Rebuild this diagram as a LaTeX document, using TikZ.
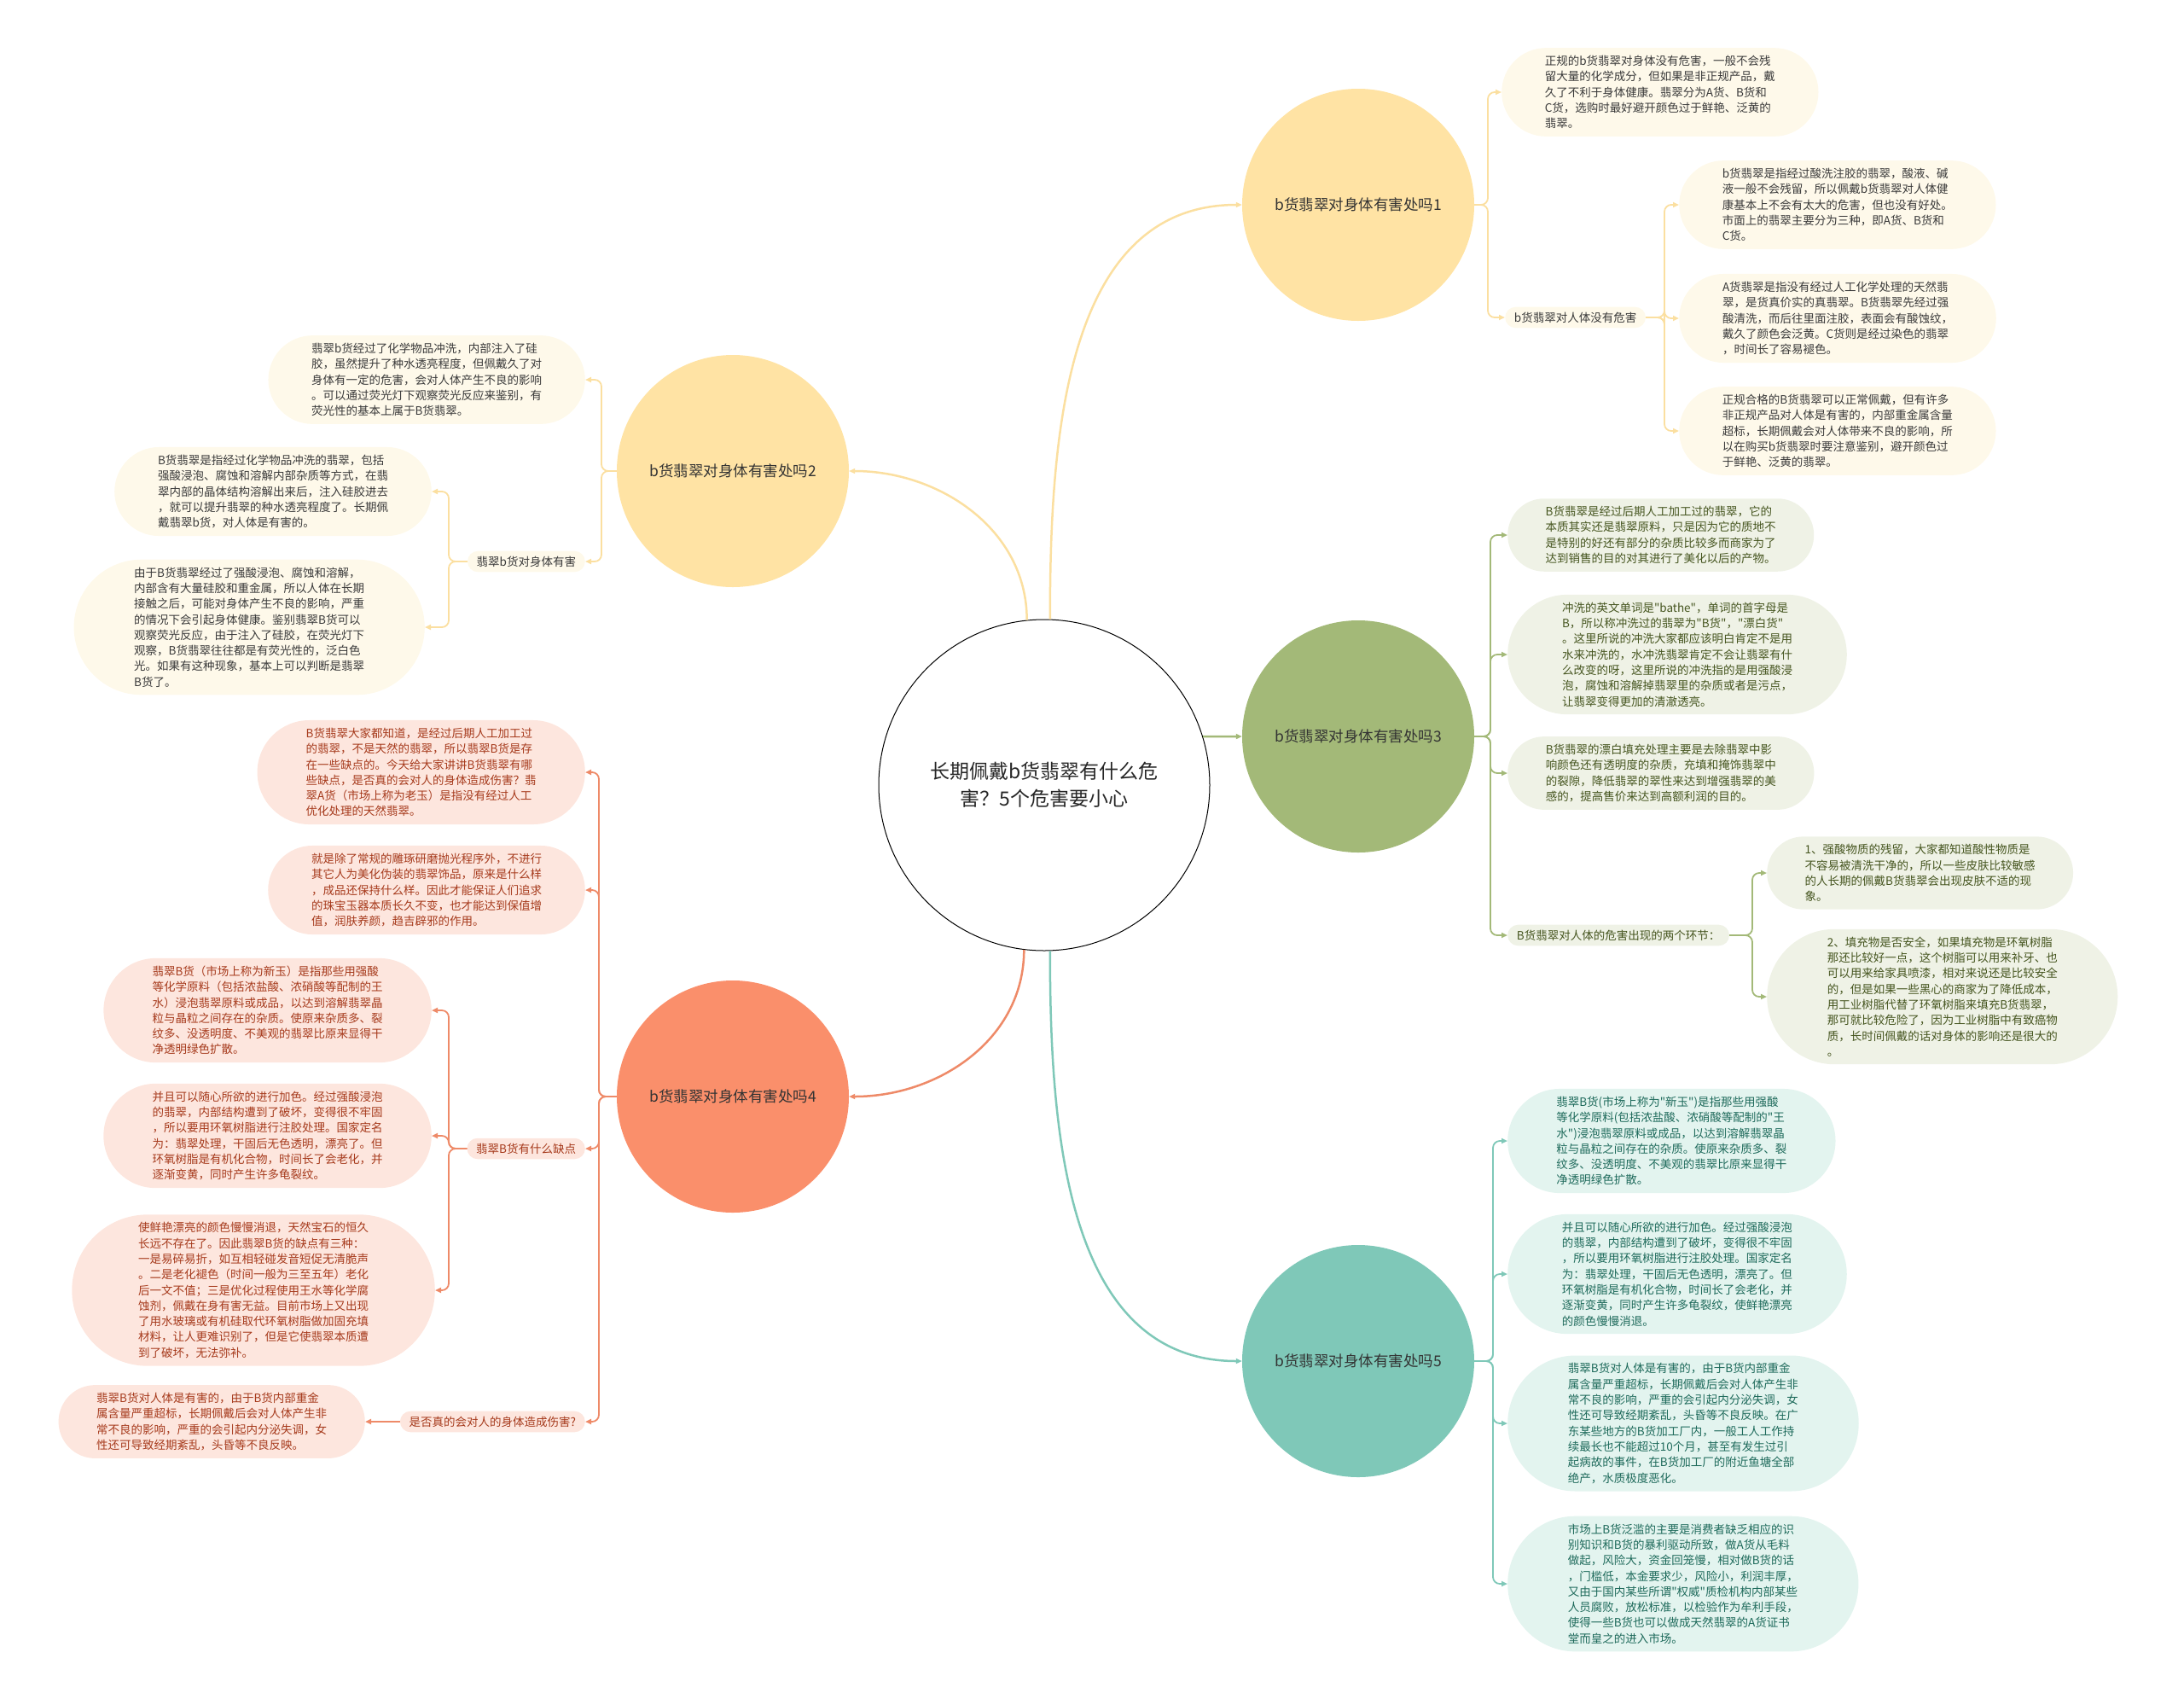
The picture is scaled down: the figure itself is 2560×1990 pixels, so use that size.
\documentclass[tikz,border=0pt]{standalone}
\usepackage{fontspec}
\setmainfont{Noto Sans CJK SC}[Ligatures=TeXOff]
\usepackage{tikz}
\usetikzlibrary{arrows.meta, shapes.misc, positioning}

\definecolor{yelMain}{HTML}{FFE3A4}
\definecolor{yelLine}{HTML}{FBDFA0}
\definecolor{yelLeaf}{HTML}{FEF9EA}
\definecolor{yelText}{HTML}{3A3A3A}
\definecolor{grnMain}{HTML}{A3B978}
\definecolor{grnLeaf}{HTML}{EFF2E6}
\definecolor{grnText}{HTML}{45551F}
\definecolor{orgMain}{HTML}{FA8F6B}
\definecolor{orgLine}{HTML}{EE8A68}
\definecolor{orgLeaf}{HTML}{FDE6DE}
\definecolor{orgText}{HTML}{A63A1C}
\definecolor{tealMain}{HTML}{7FC8B8}
\definecolor{tealLeaf}{HTML}{E3F4EF}
\definecolor{tealText}{HTML}{1E6A5B}

\begin{document}
\begin{tikzpicture}[x=1pt, y=-1pt, >={Triangle[length=7pt,width=6pt]},
    hub/.style={circle, draw=black, line width=1pt, minimum size=388pt, inner sep=0pt,
        align=center, text=black!85, font=\fontsize{23}{32}\selectfont},
    topic/.style={circle, minimum size=272pt, inner sep=0pt, text=black!80,
        font=\fontsize{17.5}{20}\selectfont},
    leaf/.style={rounded rectangle, inner xsep=28pt, inner ysep=9pt, align=left,
        font=\fontsize{13.5}{18.3}\selectfont},
    tag/.style={rounded rectangle, inner xsep=9pt, inner ysep=6pt,
        font=\fontsize{13.5}{16}\selectfont},
    yleaf/.style={leaf, fill=yelLeaf, text=yelText},
    gleaf/.style={leaf, fill=grnLeaf, text=grnText},
    oleaf/.style={leaf, fill=orgLeaf, text=orgText},
    tleaf/.style={leaf, fill=tealLeaf, text=tealText},
    mainline/.style={line width=2.5pt, ->},
    subline/.style={line width=1.8pt, ->, rounded corners=8pt}]

    % =================================================================
    % 0. KHUNG
    % =================================================================
    \useasboundingbox (0,0) rectangle (2560,1990);

    % =================================================================
    % 1. NUT TRUNG TAM VA 5 NHANH
    % =================================================================
    \node[hub] (Ctr) at (1224,920) {长期佩戴b货翡翠有什么危\\害？5个危害要小心};

    \node[topic, fill=yelMain] (T1) at (1592,240) {b货翡翠对身体有害处吗1};
    \node[topic, fill=yelMain] (T2) at (859,552) {b货翡翠对身体有害处吗2};
    \node[topic, fill=grnMain] (T3) at (1592,863) {b货翡翠对身体有害处吗3};
    \node[topic, fill=orgMain] (T4) at (859,1285) {b货翡翠对身体有害处吗4};
    \node[topic, fill=tealMain] (T5) at (1592,1595) {b货翡翠对身体有害处吗5};

    \draw[mainline, yelLine] (Ctr.88) to[out=90, in=180] (T1.west);
    \draw[mainline, yelLine] (Ctr.96) to[out=90, in=0] (T2.east);
    \draw[mainline, grnMain] (Ctr.17) -- (T3.west);
    \draw[mainline, orgLine] (Ctr.263) to[out=270, in=0] (T4.east);
    \draw[mainline, tealMain] (Ctr.272) to[out=270, in=180] (T5.west);

    % =================================================================
    % 2. NHANH 1
    % =================================================================
    \coordinate (S1) at (1744,0);
    \coordinate (S1b) at (1951,0);

    \node[yleaf, anchor=west] (L1) at (1760,108) {正规的b货翡翠对身体没有危害，一般不会残\\留大量的化学成分，但如果是非正规产品，戴\\久了不利于身体健康。翡翠分为A货、B货和\\C货，选购时最好避开颜色过于鲜艳、泛黄的\\翡翠。};
    \node[tag, fill=yelLeaf, text=yelText, anchor=west] (K1) at (1764,372) {b货翡翠对人体没有危害};

    \node[yleaf, anchor=west] (L1a) at (1968,240) {b货翡翠是指经过酸洗注胶的翡翠，酸液、碱\\液一般不会残留，所以佩戴b货翡翠对人体健\\康基本上不会有太大的危害，但也没有好处。\\市面上的翡翠主要分为三种，即A货、B货和\\C货。};
    \node[yleaf, anchor=west] (L1b) at (1968,373) {A货翡翠是指没有经过人工化学处理的天然翡\\翠，是货真价实的真翡翠。B货翡翠先经过强\\酸清洗，而后往里面注胶，表面会有酸蚀纹，\\戴久了颜色会泛黄。C货则是经过染色的翡翠\\，时间长了容易褪色。};
    \node[yleaf, anchor=west] (L1c) at (1968,505) {正规合格的B货翡翠可以正常佩戴，但有许多\\非正规产品对人体是有害的，内部重金属含量\\超标，长期佩戴会对人体带来不良的影响，所\\以在购买b货翡翠时要注意鉴别，避开颜色过\\于鲜艳、泛黄的翡翠。};

    \foreach \c in {L1,K1}
        \draw[subline, yelLine] (T1.east) -- (S1 |- T1.east) |- (\c.west);
    \foreach \c in {L1a,L1b,L1c}
        \draw[subline, yelLine] (K1.east) -- (S1b |- K1.east) |- (\c.west);

    % =================================================================
    % 3. NHANH 2
    % =================================================================
    \coordinate (S2) at (705,0);
    \coordinate (S2b) at (526,0);

    \node[yleaf, anchor=east] (L2) at (686,445) {翡翠b货经过了化学物品冲洗，内部注入了硅\\胶，虽然提升了种水透亮程度，但佩戴久了对\\身体有一定的危害，会对人体产生不良的影响\\。可以通过荧光灯下观察荧光反应来鉴别，有\\荧光性的基本上属于B货翡翠。};
    \node[tag, fill=yelLeaf, text=yelText, anchor=east] (K2) at (686,658) {翡翠b货对身体有害};

    \node[yleaf, anchor=east] (L2a) at (506,576) {B货翡翠是指经过化学物品冲洗的翡翠，包括\\强酸浸泡、腐蚀和溶解内部杂质等方式，在翡\\翠内部的晶体结构溶解出来后，注入硅胶进去\\，就可以提升翡翠的种水透亮程度了。长期佩\\戴翡翠b货，对人体是有害的。};
    \node[yleaf, anchor=east] (L2b) at (498,735) {由于B货翡翠经过了强酸浸泡、腐蚀和溶解，\\内部含有大量硅胶和重金属，所以人体在长期\\接触之后，可能对身体产生不良的影响，严重\\的情况下会引起身体健康。鉴别翡翠B货可以\\观察荧光反应，由于注入了硅胶，在荧光灯下\\观察，B货翡翠往往都是有荧光性的，泛白色\\光。如果有这种现象，基本上可以判断是翡翠\\B货了。};

    \foreach \c in {L2,K2}
        \draw[subline, yelLine] (T2.west) -- (S2 |- T2.west) |- (\c.east);
    \foreach \c in {L2a,L2b}
        \draw[subline, yelLine] (K2.west) -- (S2b |- K2.west) |- (\c.east);

    % =================================================================
    % 4. NHANH 3
    % =================================================================
    \coordinate (S3) at (1747,0);
    \coordinate (S3b) at (2054,0);

    \node[gleaf, anchor=west] (L3a) at (1767,627) {B货翡翠是经过后期人工加工过的翡翠，它的\\本质其实还是翡翠原料，只是因为它的质地不\\是特别的好还有部分的杂质比较多而商家为了\\达到销售的目的对其进行了美化以后的产物。};
    \node[gleaf, anchor=west] (L3b) at (1767,767) {冲洗的英文单词是"bathe"，单词的首字母是\\B，所以称冲洗过的翡翠为"B货"，"漂白货"\\。这里所说的冲洗大家都应该明白肯定不是用\\水来冲洗的，水冲洗翡翠肯定不会让翡翠有什\\么改变的呀，这里所说的冲洗指的是用强酸浸\\泡，腐蚀和溶解掉翡翠里的杂质或者是污点，\\让翡翠变得更加的清澈透亮。};
    \node[gleaf, anchor=west] (L3c) at (1767,906) {B货翡翠的漂白填充处理主要是去除翡翠中影\\响颜色还有透明度的杂质，充填和掩饰翡翠中\\的裂隙，降低翡翠的翠性来达到增强翡翠的美\\感的，提高售价来达到高额利润的目的。};
    \node[tag, fill=grnLeaf, text=grnText, anchor=west] (K3) at (1767,1096) {B货翡翠对人体的危害出现的两个环节：};

    \node[gleaf, anchor=west] (L3d) at (2071,1023) {1、强酸物质的残留，大家都知道酸性物质是\\不容易被清洗干净的，所以一些皮肤比较敏感\\的人长期的佩戴B货翡翠会出现皮肤不适的现\\象。};
    \node[gleaf, anchor=west] (L3e) at (2071,1168) {2、填充物是否安全，如果填充物是环氧树脂\\那还比较好一点，这个树脂可以用来补牙、也\\可以用来给家具喷漆，相对来说还是比较安全\\的，但是如果一些黑心的商家为了降低成本，\\用工业树脂代替了环氧树脂来填充B货翡翠，\\那可就比较危险了，因为工业树脂中有致癌物\\质，长时间佩戴的话对身体的影响还是很大的\\。};

    \foreach \c in {L3a,L3b,L3c,K3}
        \draw[subline, grnMain] (T3.east) -- (S3 |- T3.east) |- (\c.west);
    \foreach \c in {L3d,L3e}
        \draw[subline, grnMain] (K3.east) -- (S3b |- K3.east) |- (\c.west);

    % =================================================================
    % 5. NHANH 4
    % =================================================================
    \coordinate (S4) at (702,0);
    \coordinate (S4b) at (526,0);

    \node[oleaf, anchor=east] (L4a) at (686,905) {B货翡翠大家都知道，是经过后期人工加工过\\的翡翠，不是天然的翡翠，所以翡翠B货是存\\在一些缺点的。今天给大家讲讲B货翡翠有哪\\些缺点，是否真的会对人的身体造成伤害？翡\\翠A货（市场上称为老玉）是指没有经过人工\\优化处理的天然翡翠。};
    \node[oleaf, anchor=east] (L4b) at (686,1043) {就是除了常规的雕琢研磨抛光程序外，不进行\\其它人为美化伪装的翡翠饰品，原来是什么样\\，成品还保持什么样。因此才能保证人们追求\\的珠宝玉器本质长久不变，也才能达到保值增\\值，润肤养颜，趋吉辟邪的作用。};
    \node[tag, fill=orgLeaf, text=orgText, anchor=east] (K4) at (686,1346) {翡翠B货有什么缺点};
    \node[tag, fill=orgLeaf, text=orgText, anchor=east] (K4b) at (686,1666) {是否真的会对人的身体造成伤害?};

    \node[oleaf, anchor=east] (L4c) at (506,1184) {翡翠B货（市场上称为新玉）是指那些用强酸\\等化学原料（包括浓盐酸、浓硝酸等配制的王\\水）浸泡翡翠原料或成品，以达到溶解翡翠晶\\粒与晶粒之间存在的杂质。使原来杂质多、裂\\纹多、没透明度、不美观的翡翠比原来显得干\\净透明绿色扩散。};
    \node[oleaf, anchor=east] (L4d) at (506,1331) {并且可以随心所欲的进行加色。经过强酸浸泡\\的翡翠，内部结构遭到了破坏，变得很不牢固\\，所以要用环氧树脂进行注胶处理。国家定名\\为：翡翠处理，干固后无色透明，漂亮了。但\\环氧树脂是有机化合物，时间长了会老化，并\\逐渐变黄，同时产生许多龟裂纹。};
    \node[oleaf, anchor=east] (L4e) at (510,1512) {使鲜艳漂亮的颜色慢慢消退，天然宝石的恒久\\长远不存在了。因此翡翠B货的缺点有三种：\\一是易碎易折，如互相轻碰发音短促无清脆声\\。二是老化褪色（时间一般为三至五年）老化\\后一文不值；三是优化过程使用王水等化学腐\\蚀剂，佩戴在身有害无益。目前市场上又出现\\了用水玻璃或有机硅取代环氧树脂做加固充填\\材料，让人更难识别了，但是它使翡翠本质遭\\到了破坏，无法弥补。};
    \node[oleaf, anchor=east] (L4f) at (428,1666) {翡翠B货对人体是有害的，由于B货内部重金\\属含量严重超标，长期佩戴后会对人体产生非\\常不良的影响，严重的会引起内分泌失调，女\\性还可导致经期紊乱，头昏等不良反映。};

    \foreach \c in {L4a,L4b,K4,K4b}
        \draw[subline, orgLine] (T4.west) -- (S4 |- T4.west) |- (\c.east);
    \foreach \c in {L4c,L4d,L4e}
        \draw[subline, orgLine] (K4.west) -- (S4b |- K4.west) |- (\c.east);
    \draw[subline, orgLine] (K4b.west) -- (L4f.east);

    % =================================================================
    % 6. NHANH 5
    % =================================================================
    \coordinate (S5) at (1750,0);

    \node[tleaf, anchor=west] (L5a) at (1767,1337) {翡翠B货(市场上称为"新玉")是指那些用强酸\\等化学原料(包括浓盐酸、浓硝酸等配制的"王\\水")浸泡翡翠原料或成品，以达到溶解翡翠晶\\粒与晶粒之间存在的杂质。使原来杂质多、裂\\纹多、没透明度、不美观的翡翠比原来显得干\\净透明绿色扩散。};
    \node[tleaf, anchor=west] (L5b) at (1767,1493) {并且可以随心所欲的进行加色。经过强酸浸泡\\的翡翠，内部结构遭到了破坏，变得很不牢固\\，所以要用环氧树脂进行注胶处理。国家定名\\为：翡翠处理，干固后无色透明，漂亮了。但\\环氧树脂是有机化合物，时间长了会老化，并\\逐渐变黄，同时产生许多龟裂纹，使鲜艳漂亮\\的颜色慢慢消退。};
    \node[tleaf, anchor=west] (L5c) at (1767,1668) {翡翠B货对人体是有害的，由于B货内部重金\\属含量严重超标，长期佩戴后会对人体产生非\\常不良的影响，严重的会引起内分泌失调，女\\性还可导致经期紊乱，头昏等不良反映。在广\\东某些地方的B货加工厂内，一般工人工作持\\续最长也不能超过10个月，甚至有发生过引\\起病故的事件，在B货加工厂的附近鱼塘全部\\绝产，水质极度恶化。};
    \node[tleaf, anchor=west] (L5d) at (1767,1856) {市场上B货泛滥的主要是消费者缺乏相应的识\\别知识和B货的暴利驱动所致，做A货从毛料\\做起，风险大，资金回笼慢，相对做B货的话\\，门槛低，本金要求少，风险小，利润丰厚，\\又由于国内某些所谓"权威"质检机构内部某些\\人员腐败，放松标准，以检验作为牟利手段，\\使得一些B货也可以做成天然翡翠的A货证书\\堂而皇之的进入市场。};

    \foreach \c in {L5a,L5b,L5c,L5d}
        \draw[subline, tealMain] (T5.east) -- (S5 |- T5.east) |- (\c.west);

\end{tikzpicture}
\end{document}
